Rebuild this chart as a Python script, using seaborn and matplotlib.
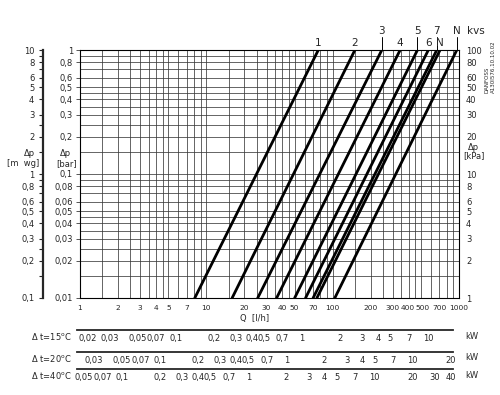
import numpy as np
import pandas as pd
import matplotlib
matplotlib.use("Agg")
import matplotlib.pyplot as plt
import seaborn as sns
from matplotlib.ticker import FixedLocator, FuncFormatter, NullFormatter
from matplotlib.transforms import blended_transform_factory, ScaledTranslation

# ---------------- data ----------------
presets = ["1", "2", "3", "4", "5", "6", "7", "N", "N"]
label_row = [0, 0, 1, 0, 1, 0, 1, 0, 1]          # 0 = lower row, 1 = upper row with leader
q_at_min_dp = [8.1, 16.0, 25.5, 36.0, 50.0, 61.0, 70.0, 75.0, 104.0]   # Q [l/h] at 0.01 bar
q_at_max_dp = [77, 150, 245, 342, 469, 572, 667, 708, 961]             # Q [l/h] at 1 bar
dp_bounds = [0.01, 1.0]

q_ticks = [1, 2, 3, 4, 5, 7, 10, 20, 30, 40, 50, 70, 100, 200, 300, 400, 500, 700, 1000]
bar_ticks = [1, 0.8, 0.6, 0.5, 0.4, 0.3, 0.2, 0.1, 0.08, 0.06, 0.05, 0.04, 0.03, 0.02, 0.01]
kpa_ticks = [100, 80, 60, 50, 40, 30, 20, 10, 8, 6, 5, 4, 3, 2, 1]
mwg_ticks = [10, 8, 6, 5, 4, 3, 2, 1, 0.8, 0.6, 0.5, 0.4, 0.3, 0.2, 0.1]
grid_steps = [1, 1.5, 2, 2.5, 3, 3.5, 4, 4.5, 5, 6, 7, 8, 9]
minor_steps = [1, 2, 3, 4, 5, 6, 7, 8, 9]

dt_values = [15, 20, 40]
kw_ticks = {
    15: [0.02, 0.03, 0.05, 0.07, 0.1, 0.2, 0.3, 0.4, 0.5, 0.7, 1, 2, 3, 4, 5, 7, 10],
    20: [0.03, 0.05, 0.07, 0.1, 0.2, 0.3, 0.4, 0.5, 0.7, 1, 2, 3, 4, 5, 7, 10, 20],
    40: [0.05, 0.07, 0.1, 0.2, 0.3, 0.4, 0.5, 0.7, 1, 2, 3, 4, 5, 7, 10, 20, 30, 40],
}
heat_const = 4.186 / 3600.0   # kW per (l/h * K)

# ---------------- style ----------------
sns.set_style("white")
plt.rcParams["font.family"] = ["DejaVu Sans"]
plt.rcParams["axes.linewidth"] = 0.8

W, H = 500, 395
fig = plt.figure(figsize=(W / 100, H / 100), dpi=100)
fig.patch.set_facecolor("white")

def fx(px):
    return px / W

def fy(py):
    return 1 - py / H

L, R, T, B = 80, 459, 50, 298
ax = fig.add_axes([fx(L), fy(B), fx(R) - fx(L), fy(T) - fy(B)])

rows = []
for i, p in enumerate(presets):
    rows.append({"curve": i, "preset": p, "Q": q_at_min_dp[i], "dp": dp_bounds[0]})
    rows.append({"curve": i, "preset": p, "Q": q_at_max_dp[i], "dp": dp_bounds[1]})
df = pd.DataFrame(rows)

sns.lineplot(data=df, x="Q", y="dp", units="curve", estimator=None, sort=False,
             color="black", lw=2.0, ax=ax, legend=False, zorder=5)
ax.set_xscale("log")
ax.set_yscale("log")
ax.set_xlim(1, 1000)
ax.set_ylim(0.01, 1)
ax.set_xlabel("")
ax.set_ylabel("")

def comma(v, pos=None):
    return f"{v:g}".replace(".", ",")

def grid_vals(decades):
    out = []
    for d in decades:
        out += [s * d for s in grid_steps]
    return out

xgrid = grid_vals([1, 10, 100]) + [1000]
ygrid = grid_vals([0.01, 0.1]) + [1]
gc = "#3a3a3a"
for v in xgrid:
    ax.axvline(v, color=gc, lw=0.55, zorder=1)
for v in ygrid:
    ax.axhline(v, color=gc, lw=0.55, zorder=1)

ax.xaxis.set_major_locator(FixedLocator(q_ticks))
ax.xaxis.set_major_formatter(FuncFormatter(comma))
ax.xaxis.set_minor_locator(FixedLocator([v for v in xgrid if v not in q_ticks]))
ax.xaxis.set_minor_formatter(NullFormatter())
ax.yaxis.set_major_locator(FixedLocator(bar_ticks))
ax.yaxis.set_major_formatter(FuncFormatter(comma))
ax.yaxis.set_minor_locator(FixedLocator([]))
ax.tick_params(axis="x", which="both", direction="out", length=3, width=0.6,
               labelsize=5.4, pad=2, color=gc)
ax.tick_params(axis="y", which="major", direction="out", length=3, width=0.6,
               labelsize=6, pad=2, color=gc)
for s in ax.spines.values():
    s.set_color("black")
    s.set_linewidth(0.8)

# nudge the tightly packed 400 / 500 labels apart
nudge = {400: -1.3, 500: 1.3}
for tick, val in zip(ax.xaxis.get_major_ticks(len(q_ticks)), q_ticks):
    if val in nudge:
        lab = tick.label1
        lab.set_transform(lab.get_transform() +
                          ScaledTranslation(nudge[val] / 100, 0, fig.dpi_scale_trans))

# right kPa axis
ax2 = ax.twinx()
ax2.set_yscale("log")
ax2.set_ylim(1, 100)
ax2.yaxis.set_major_locator(FixedLocator(kpa_ticks))
ax2.yaxis.set_major_formatter(FuncFormatter(comma))
ax2.yaxis.set_minor_locator(FixedLocator([]))
ax2.tick_params(axis="y", length=0, labelsize=6, pad=5)
ax2.grid(False)
for s in ax2.spines.values():
    s.set_visible(False)

# left m wg axis
sec = ax.secondary_yaxis((42.7 - L) / (R - L), functions=(lambda b: b * 10, lambda m: m / 10))
sec.set_yscale("log")
sec.yaxis.set_major_locator(FixedLocator(mwg_ticks))
sec.yaxis.set_major_formatter(FuncFormatter(comma))
sec.yaxis.set_minor_locator(FixedLocator([1.5, 2.5, 0.15, 0.25, 9, 7, 0.9, 0.7]))
sec.yaxis.set_minor_formatter(NullFormatter())
sec.tick_params(axis="y", which="both", direction="out", length=3, width=0.8,
                labelsize=6, pad=3)
for s in sec.spines.values():
    s.set_linewidth(1.6)

# preset labels on top
tr = blended_transform_factory(ax.transData, fig.transFigure)
for i, p in enumerate(presets):
    xq = q_at_max_dp[i]
    if label_row[i] == 1:
        ax.plot([xq, xq], [fy(T), fy(37)], transform=tr, color="black", lw=0.7,
                clip_on=False)
        yy = fy(31.5)
    else:
        yy = fy(42.5)
    fig.text(xq, yy, p, transform=tr, ha="center", va="center", fontsize=7.5)
fig.text(fx(476), fy(31.5), "kvs", ha="center", va="center", fontsize=7.5)

# axis captions
fig.text(fx(30), fy(153), "Δp", ha="center", va="center", fontsize=6)
fig.text(fx(23), fy(164), "[m  wg]", ha="center", va="center", fontsize=6)
fig.text(fx(66), fy(153), "Δp", ha="center", va="center", fontsize=6)
fig.text(fx(67), fy(164), "[bar]", ha="center", va="center", fontsize=6)
fig.text(fx(474), fy(147), "Δp", ha="center", va="center", fontsize=6)
fig.text(fx(474), fy(156), "[kPa]", ha="center", va="center", fontsize=6)
fig.text(fx(255), fy(318.5), "Q  [l/h]", ha="center", va="center", fontsize=6)

# Danfoss stamp
fig.text(fx(487), fy(93), "DANFOSS", rotation=90, ha="center", va="bottom", fontsize=4)
fig.text(fx(493), fy(93), "A130I576.10.10.02", rotation=90, ha="center", va="bottom", fontsize=4)

# heat output scales
def q_of_px(px):
    return 10 ** (3 * (px - L) / (R - L))

scale_y = {15: 330, 20: 351.5, 40: 369}
x0, x1 = 77, 453
for dt in dt_values:
    f = heat_const * dt
    yy = scale_y[dt]
    k = fig.add_axes([fx(x0), fy(yy), fx(x1) - fx(x0), 0.0001])
    k.set_xscale("log")
    lo, hi = q_of_px(x0) * f, q_of_px(x1) * f
    k.set_xlim(lo, hi)
    k.set_yticks([])
    for name, s in k.spines.items():
        s.set_visible(name == "bottom")
    k.spines["bottom"].set_linewidth(1.3)
    k.set_facecolor("none")
    majors = kw_ticks[dt]
    minors = []
    for d in [0.01, 0.1, 1, 10]:
        for s in minor_steps:
            v = round(s * d, 4)
            if lo <= v <= hi and all(abs(v - m) > 1e-9 for m in majors):
                minors.append(v)
    k.xaxis.set_major_locator(FixedLocator(majors))
    k.xaxis.set_major_formatter(FuncFormatter(comma))
    k.xaxis.set_minor_locator(FixedLocator(minors))
    k.xaxis.set_minor_formatter(NullFormatter())
    k.tick_params(axis="x", which="both", direction="out", length=2.5, width=0.8,
                  labelsize=6, pad=0.5)
    fig.text(fx(51), fy(yy + 6.5), "Δ t=%d$^{\\rm o}$C" % dt, ha="center", va="center",
             fontsize=6)
    fig.text(fx(472), fy(yy + 6.5), "kW", ha="center", va="center", fontsize=6)

fig.savefig("out.png", dpi=100, facecolor="white")
